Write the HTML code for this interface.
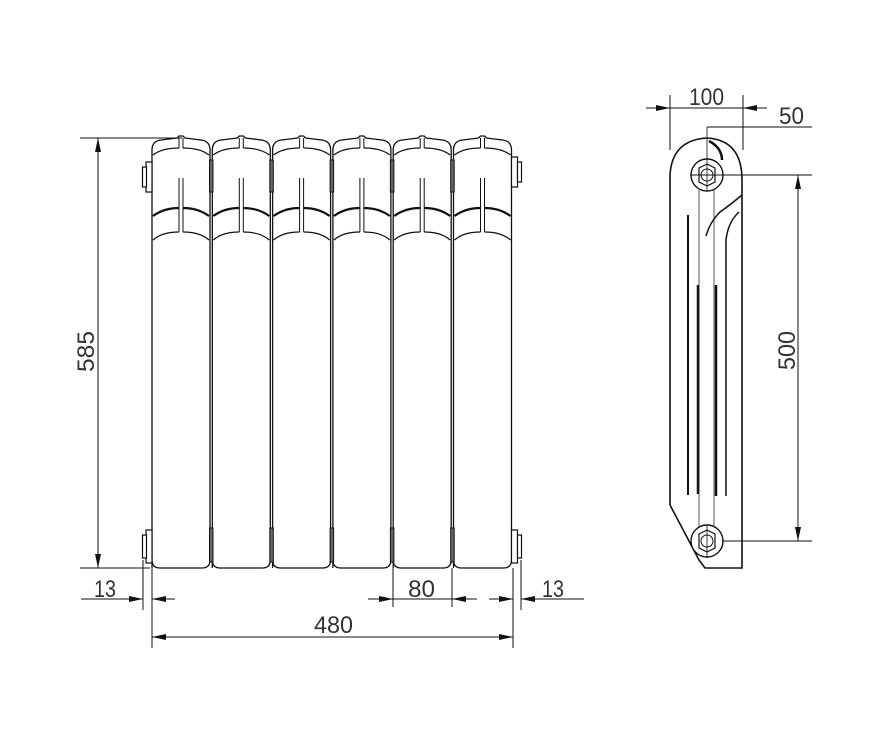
<!DOCTYPE html>
<html><head><meta charset="utf-8"><style>
html,body{margin:0;padding:0;background:#fff;}
svg{display:block;}
text{font-family:"Liberation Sans",sans-serif;font-size:24px;fill:#333;}
</style></head><body>
<svg width="869" height="736" viewBox="0 0 869 736" xmlns="http://www.w3.org/2000/svg">
<defs>
<marker id="a" markerWidth="14" markerHeight="6" refX="14" refY="3" orient="auto-start-reverse" markerUnits="userSpaceOnUse">
<path d="M0,0 L14,3 L0,6 z" fill="#111"/></marker>
<g id="sec" fill="none" stroke="#111">
  <path d="M0,568 L0,150 Q0,141 9,140 L25,138 L27,136 L31,136 L33,138 L49,140 Q58,141 58,150 L58,560 Q58,568 50,568 L8,568 Q0,568 0,560" stroke-width="1.3"/>
  <path d="M1,155 Q10,148 27,148 M31,148 Q48,148 57,155" stroke-width="1.2"/>
  <path d="M27,138 L27,148 M31,138 L31,148" stroke-width="1"/>
  <path d="M1,216 Q12,208 27,208 M31,208 Q46,208 57,216" stroke-width="2.2"/>
  <path d="M1,240 Q10,232 27,232 M31,232 Q48,232 57,240" stroke-width="1.2"/>
  <path d="M27,178 L27,232 M31,178 L31,232" stroke-width="1"/>
</g>
</defs>
<g>
<use href="#sec" x="152"/><use href="#sec" x="212.3"/><use href="#sec" x="272.6"/>
<use href="#sec" x="332.9"/><use href="#sec" x="393.2"/><use href="#sec" x="453.5"/>
</g>
<g fill="#666" stroke="#111" stroke-width="1">
<rect x="209.5" y="160" width="3.5" height="32"/><rect x="269.8" y="160" width="3.5" height="32"/>
<rect x="330.1" y="160" width="3.5" height="32"/><rect x="390.4" y="160" width="3.5" height="32"/>
<rect x="450.7" y="160" width="3.5" height="32"/>
<rect x="209.5" y="528" width="3.5" height="34"/><rect x="269.8" y="528" width="3.5" height="34"/>
<rect x="330.1" y="528" width="3.5" height="34"/><rect x="390.4" y="528" width="3.5" height="34"/>
<rect x="450.7" y="528" width="3.5" height="34"/>
</g>
<g fill="#fff" stroke="#111" stroke-width="1.2">
<rect x="146" y="162" width="6" height="30"/><rect x="142.5" y="167" width="4" height="20"/>
<rect x="146" y="530" width="6" height="33"/><rect x="142.5" y="535" width="4" height="23"/>
<rect x="511.5" y="157" width="6" height="30"/><rect x="517.5" y="162" width="4" height="20"/>
<rect x="511.5" y="530" width="6" height="33"/><rect x="517.5" y="535" width="4" height="23"/>
</g>
<g stroke="#111" stroke-width="1" fill="none">
<line x1="80" y1="138" x2="182" y2="138"/>
<line x1="80" y1="568" x2="150" y2="568"/>
<line x1="98" y1="138" x2="98" y2="568" marker-start="url(#a)" marker-end="url(#a)"/>
<line x1="143" y1="560" x2="143" y2="610"/>
<line x1="152" y1="568" x2="152" y2="648"/>
<line x1="81" y1="599" x2="143" y2="599" marker-end="url(#a)"/>
<line x1="175" y1="599" x2="152" y2="599" marker-end="url(#a)"/>
<line x1="393" y1="568" x2="393" y2="607"/>
<line x1="452" y1="568" x2="452" y2="607"/>
<line x1="368" y1="599" x2="393" y2="599" marker-end="url(#a)"/>
<line x1="477" y1="599" x2="452" y2="599" marker-end="url(#a)"/>
<line x1="393" y1="599" x2="452" y2="599"/>
<line x1="513" y1="568" x2="513" y2="648"/>
<line x1="521" y1="560" x2="521" y2="610"/>
<line x1="489" y1="599" x2="513" y2="599" marker-end="url(#a)"/>
<line x1="584" y1="599" x2="521" y2="599" marker-end="url(#a)"/>
<line x1="152" y1="637" x2="513" y2="637" marker-start="url(#a)" marker-end="url(#a)"/>
</g>
<text x="94" y="372" transform="rotate(-90 94 372)" textLength="41" lengthAdjust="spacingAndGlyphs">585</text>
<text x="94" y="597" textLength="22" lengthAdjust="spacingAndGlyphs">13</text>
<text x="408" y="597" textLength="27" lengthAdjust="spacingAndGlyphs">80</text>
<text x="542" y="597" textLength="22" lengthAdjust="spacingAndGlyphs">13</text>
<text x="314" y="633" textLength="39" lengthAdjust="spacingAndGlyphs">480</text>
<g stroke="#111" fill="none">
<path d="M670,505 L670,175 Q672,140 707,138 Q742,140 742,180 L742,568 L705,568 L699,560 L670,505" stroke-width="1.6"/>
<path d="M709,141 Q722,148 722,160" stroke-width="2.5"/>
<path d="M742,195 Q730,205 720,212 Q710,222 706,236" stroke-width="1.5"/>
<path d="M739,212 Q728,222 726,240 L726,496" stroke-width="1.5"/>
<line x1="688" y1="215" x2="688" y2="495" stroke-width="2"/>
<line x1="698" y1="285" x2="698" y2="494" stroke-width="2.5"/>
<line x1="716" y1="285" x2="716" y2="496" stroke-width="2.5"/>
<line x1="699" y1="190" x2="699" y2="527" stroke-width="0.7"/>
<line x1="714" y1="190" x2="714" y2="527" stroke-width="0.7"/>
<circle cx="707" cy="175" r="16" stroke-width="1.4" fill="#fff"/>
<path d="M699,168 L707,164 L715,168 L715,182 L707,186 L699,182 z" stroke-width="1.2"/>
<circle cx="707" cy="175" r="6" stroke-width="1"/>
<circle cx="707" cy="541" r="16" stroke-width="1.4" fill="#fff"/>
<path d="M699,534 L707,530 L715,534 L715,548 L707,552 L699,548 z" stroke-width="1.2"/>
<circle cx="707" cy="541" r="6" stroke-width="1"/>
<line x1="707" y1="127" x2="707" y2="190" stroke-width="0.8"/>
<line x1="707" y1="525" x2="707" y2="558" stroke-width="0.8"/>
</g>
<g stroke="#111" stroke-width="1" fill="none">
<line x1="670" y1="95" x2="670" y2="150"/>
<line x1="743" y1="95" x2="743" y2="150"/>
<line x1="646" y1="108" x2="670" y2="108" marker-end="url(#a)"/>
<line x1="767" y1="108" x2="743" y2="108" marker-end="url(#a)"/>
<line x1="670" y1="108" x2="743" y2="108"/>
<line x1="707" y1="127" x2="812" y2="127"/>
<line x1="690" y1="175" x2="812" y2="175"/>
<line x1="722" y1="541" x2="812" y2="541"/>
<line x1="798" y1="175" x2="798" y2="541" marker-start="url(#a)" marker-end="url(#a)"/>
</g>
<text x="689" y="105" textLength="35" lengthAdjust="spacingAndGlyphs">100</text>
<text x="779" y="124" textLength="25" lengthAdjust="spacingAndGlyphs">50</text>
<text x="795" y="370" transform="rotate(-90 795 370)" textLength="39" lengthAdjust="spacingAndGlyphs">500</text>
</svg>
</body></html>
